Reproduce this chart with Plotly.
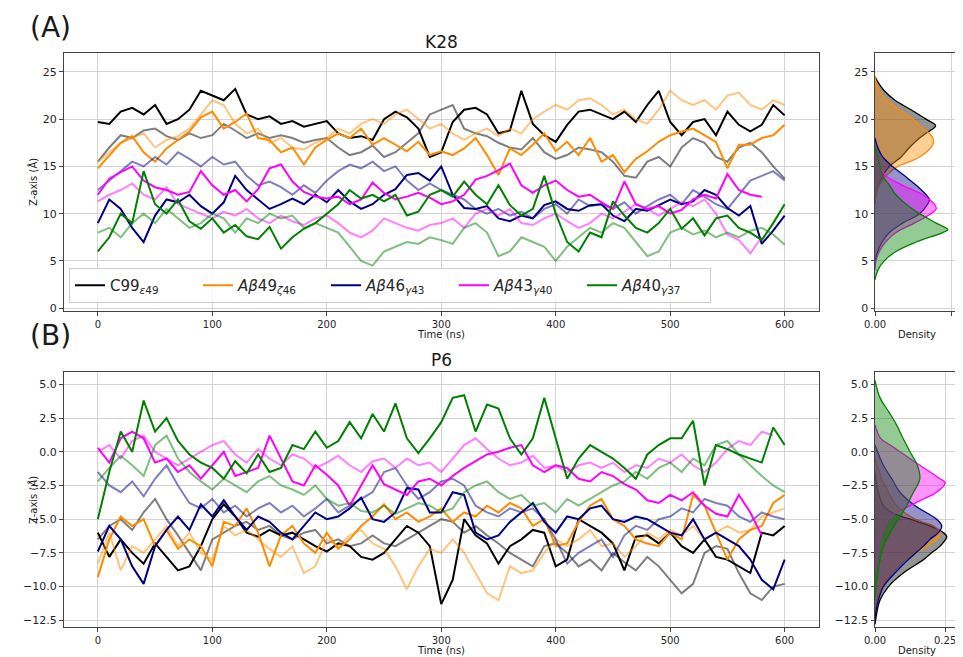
import plotly.graph_objects as go

# ---------------- time axis (ns) ----------------
time_ns = list(range(0, 601, 10))

# ---------------- Panel A : K28  (Z position, Angstrom) ----------------
k28_c99_r1 = [19.7, 19.5, 20.8, 21.2, 20.5, 21.5, 19.5, 20.0, 21.0, 23.0,
              22.5, 22.0, 23.2, 20.5, 20.0, 20.3, 19.5, 19.8, 19.2, 19.5,
              19.8, 18.5, 18.0, 18.2, 17.8, 20.0, 20.8, 20.2, 19.0, 16.0,
              16.5, 19.7, 21.0, 21.2, 20.5, 18.5, 18.8, 23.0, 19.5, 18.3,
              17.6, 19.4, 20.8, 21.0, 20.5, 20.0, 20.8, 19.7, 21.5, 23.0,
              19.7, 18.3, 19.7, 20.0, 18.3, 20.8, 19.4, 18.7, 19.4, 21.5,
              20.4]
k28_c99_r2 = [15.5, 17.0, 18.3, 18.0, 18.8, 19.0, 18.2, 17.8, 18.5, 18.0,
              18.3, 19.5, 18.8, 18.0, 18.5, 18.0, 18.3, 18.0, 17.5, 17.8,
              18.0, 17.0, 16.2, 16.5, 17.2, 16.0, 16.5, 17.5, 18.5, 20.5,
              21.0, 21.5, 19.0, 18.5, 18.2, 17.5, 17.0, 16.8, 18.0, 16.5,
              15.8, 16.2, 17.0, 16.8, 16.5, 15.5, 14.0, 13.8, 15.5, 16.0,
              15.0, 17.0, 18.0, 17.5, 16.0, 15.5, 17.0, 17.5, 16.5, 15.0,
              13.7]
k28_ab49_r1 = [14.8, 16.2, 17.5, 18.2, 16.5, 15.5, 16.9, 17.8, 18.7, 20.2,
               20.8, 19.0, 19.7, 20.6, 18.0, 17.8, 16.5, 17.0, 15.2, 17.0,
               17.8, 18.5, 18.0, 19.0, 17.3, 18.0, 17.3, 16.6, 17.6, 16.2,
               16.6, 16.2, 16.9, 18.0, 16.2, 14.1, 16.9, 16.2, 17.3, 18.5,
               16.6, 17.6, 16.2, 18.0, 15.5, 16.2, 14.4, 15.8, 16.6, 17.6,
               18.3, 18.7, 19.0, 18.3, 17.6, 14.8, 17.3, 17.3, 18.0, 18.3,
               19.4]
k28_ab49_r2 = [15.5, 16.5, 17.5, 18.0, 18.5, 17.0, 17.8, 18.2, 19.0, 20.5,
               22.0, 21.5, 19.5, 18.5, 19.0, 17.5, 18.0, 17.0, 16.8, 17.5,
               18.0, 19.0, 18.5, 19.5, 20.0, 19.5, 20.5, 21.0, 20.0, 19.0,
               19.5, 18.5, 17.8, 18.5, 19.0, 18.2, 19.0, 18.5, 20.0, 20.8,
               21.5, 21.0, 22.0, 22.2, 21.5, 20.5, 21.0, 20.0, 19.5, 21.0,
               23.0, 22.0, 21.5, 22.0, 21.0, 22.5, 22.8, 21.5, 21.0, 22.0,
               21.5]
k28_ab46_r1 = [9.0, 11.5, 10.5, 8.5, 7.0, 9.8, 11.5, 11.2, 12.0, 10.8,
               10.0, 11.2, 14.0, 12.5, 11.5, 10.5, 11.0, 11.6, 11.0, 12.0,
               11.2, 12.5, 11.3, 10.5, 11.0, 12.0, 12.6, 14.1, 14.3, 13.5,
               15.0, 12.0, 10.6, 10.5, 10.8, 9.5, 9.2, 9.8, 9.5, 10.9,
               11.3, 10.5, 10.3, 10.9, 11.0, 9.8, 9.2, 10.5, 10.3, 10.9,
               11.5, 11.0, 11.3, 12.5, 12.0, 10.6, 9.8, 10.8, 6.8, 8.2,
               9.8]
k28_ab46_r2 = [12.5, 13.5, 14.5, 15.5, 15.0, 16.0, 15.2, 16.5, 15.8, 15.0,
               16.0, 15.2, 15.5, 14.0, 13.0, 13.4, 12.8, 12.0, 13.0, 12.2,
               13.5, 14.5, 15.2, 14.8, 15.5, 14.5, 15.0, 13.5, 12.5, 13.2,
               12.5, 12.0, 11.5, 10.5, 10.0, 10.5, 9.8, 10.2, 9.5, 10.5,
               11.0, 10.0, 11.5, 10.8, 11.0, 10.5, 11.2, 10.0, 10.8, 11.5,
               12.0, 11.0, 12.5, 11.8, 11.0, 10.5, 12.0, 13.5, 14.0, 14.5,
               13.5]
k28_ab43_r1 = [12.0, 13.7, 14.4, 15.0, 13.5, 12.8, 12.5, 12.0, 12.3, 14.5,
               13.0, 12.0, 12.5, 11.3, 12.6, 14.8, 15.2, 13.4, 12.3, 11.8,
               11.6, 11.8, 11.0, 11.5, 13.3, 12.2, 11.5, 11.8, 12.2, 11.7,
               11.0, 11.3, 12.0, 13.6, 14.0, 14.6, 15.3, 13.0, 12.2, 13.0,
               13.5, 12.5, 11.8, 12.0, 11.2, 10.5, 13.4, 11.0, 10.5, 10.8,
               10.0, 10.4, 11.5, 12.0, 11.6, 14.2, 12.5, 12.0, 11.8]
k28_ab43_r2 = [11.3, 12.0, 12.5, 13.2, 12.0, 11.5, 12.8, 11.0, 10.5, 10.0,
               9.5, 10.2, 9.8, 10.5, 9.5, 9.0, 9.8, 9.2, 8.8, 9.5,
               9.8, 9.0, 8.0, 7.5, 8.2, 9.5, 9.0, 8.5, 8.2, 8.8,
               9.0, 9.5, 8.5, 10.0, 10.5, 9.8, 10.5, 9.0, 8.8, 9.5,
               10.0, 9.2, 8.5, 9.0, 10.0, 9.5, 10.2, 11.0, 10.5, 9.8,
               10.5, 11.2, 10.8, 11.5, 10.0, 7.8, 7.2, 5.8, 7.5]
k28_ab40_r1 = [6.0, 7.5, 10.0, 9.0, 14.5, 11.0, 10.0, 11.5, 9.2, 8.4,
               9.5, 8.0, 8.8, 7.6, 7.3, 8.6, 6.3, 7.5, 8.4, 9.0,
               10.0, 11.0, 12.5, 11.6, 12.0, 11.3, 12.0, 9.8, 10.2, 12.0,
               12.5, 11.8, 13.4, 12.0, 11.0, 13.0, 10.9, 9.8, 10.5, 14.0,
               10.0, 7.0, 6.0, 8.0, 7.5, 11.3, 9.8, 8.5, 8.0, 9.0,
               10.5, 8.4, 9.5, 7.7, 9.5, 9.8, 8.5, 8.0, 7.2, 9.0,
               11.0]
k28_ab40_r2 = [8.0, 8.5, 7.5, 9.0, 10.0, 9.0, 10.5, 9.5, 8.5, 9.0,
               10.0, 9.5, 8.0, 9.5, 9.0, 10.0, 9.5, 9.8, 8.5, 9.0,
               8.5, 8.0, 6.5, 5.0, 4.5, 6.0, 6.5, 7.0, 6.8, 7.5,
               7.2, 6.8, 8.5, 9.0, 8.0, 5.5, 6.0, 7.5, 7.0, 6.5,
               5.0, 6.5, 7.5, 8.5, 8.0, 9.0, 8.5, 7.0, 5.5, 6.0,
               8.0, 8.5, 7.8, 8.2, 7.5, 8.0, 7.5, 8.2, 8.5, 7.8,
               6.7]

# ---------------- Panel B : P6 ----------------
p6_c99_r1 = [-6.0, -7.8, -6.5, -7.5, -8.3, -6.8, -7.8, -8.8, -8.5, -7.0,
             -5.0, -3.9, -4.8, -6.0, -6.3, -5.8, -6.2, -6.0, -6.5, -7.0,
             -7.4, -6.8, -7.0, -7.8, -8.0, -7.5, -6.5, -5.5, -6.0, -7.0,
             -11.3, -9.5, -5.0, -6.2, -6.8, -8.3, -7.0, -6.5, -5.8, -6.0,
             -8.5, -8.0, -5.0, -5.5, -6.0, -6.8, -8.8, -6.3, -6.2, -6.8,
             -6.0, -7.0, -7.5, -6.5, -7.8, -8.0, -8.5, -9.0, -6.0, -6.2,
             -5.5]
p6_c99_r2 = [-6.5, -5.5, -5.0, -5.8, -4.5, -3.5, -5.0, -6.2, -7.5, -8.8,
             -6.5, -6.0, -5.5, -5.2, -5.8, -5.5, -6.2, -6.5, -6.0, -5.8,
             -6.8, -6.5, -7.0, -6.8, -6.2, -6.8, -7.0, -6.5, -6.0, -5.5,
             -5.0, -5.2, -6.0, -5.5, -6.2, -6.8, -7.5, -8.0, -8.5, -7.0,
             -6.8, -7.5, -8.5, -8.0, -8.8, -7.5, -8.2, -8.8, -7.8, -8.5,
             -9.5, -10.5, -9.8, -7.5, -7.0, -7.2, -9.0, -10.5, -11.0, -10.0,
             -9.8]
p6_ab49_r1 = [-9.3, -6.5, -4.8, -5.5, -5.0, -7.0, -5.8, -7.2, -6.5, -7.0,
              -8.5, -5.2, -5.5, -4.2, -6.0, -8.5, -6.2, -5.5, -6.8, -7.5,
              -6.0, -7.2, -6.5, -5.5, -4.8, -3.9, -5.0, -4.5, -5.2, -4.8,
              -4.2, -5.2, -4.5, -4.8, -4.0, -4.5, -3.8, -4.2, -5.5, -5.0,
              -7.0, -6.8, -5.2, -4.0, -3.5, -5.0, -5.5, -6.5, -6.8, -7.0,
              -6.0, -6.5, -3.2, -4.0, -6.0, -8.0, -6.5, -5.8, -5.5, -3.8,
              -3.2]
p6_ab49_r2 = [-8.3, -6.0, -8.8, -7.0, -7.5, -6.5, -5.5, -7.0, -6.0, -7.5,
              -8.0, -5.5, -6.2, -5.8, -6.5, -7.2, -7.8, -7.0, -9.0, -8.5,
              -6.5, -7.0, -6.2, -5.8, -6.8, -7.2, -8.5, -10.2, -8.5, -7.2,
              -7.5, -6.5, -7.5, -9.0, -10.5, -11.0, -8.5, -9.0, -8.8, -7.5,
              -6.5, -7.0, -6.5, -5.8, -7.0, -6.8, -7.8, -7.0, -6.0, -6.5,
              -5.8, -6.2, -5.5, -6.5, -6.0, -5.5, -6.0, -5.8, -4.8, -4.5,
              -4.2]
p6_ab46_r1 = [-7.4, -5.5, -6.5, -8.5, -9.8, -7.0, -5.8, -4.8, -5.8, -3.9,
              -4.8, -3.6, -4.8, -5.8, -4.8, -5.2, -6.0, -6.5, -5.5, -4.5,
              -5.0, -4.8, -4.2, -3.4, -5.0, -5.2, -4.5, -2.7, -2.8, -4.5,
              -4.5, -3.0, -3.2, -6.0, -6.5, -6.2, -5.2, -4.5, -3.8, -5.2,
              -6.0, -4.8, -5.0, -4.2, -4.0, -5.0, -5.2, -4.8, -5.0, -5.5,
              -6.0, -6.2, -5.0, -6.5, -6.0, -6.5, -7.0, -8.0, -9.5, -10.2,
              -8.0]
p6_ab46_r2 = [-1.5, -2.5, -3.0, -2.2, -3.3, -2.0, -1.0, -2.5, -3.8, -4.2,
              -3.5, -4.5, -4.0, -4.8, -4.2, -3.8, -4.5, -4.0, -4.8, -4.2,
              -3.5, -4.5, -4.0, -3.5, -3.0, -1.5, -1.2, -2.5, -3.5, -3.0,
              -2.2, -2.0, -2.5, -4.0, -4.5, -4.8, -4.2, -4.5, -4.2, -5.0,
              -6.5, -8.3, -7.5, -7.0, -6.5, -7.8, -6.2, -5.5, -5.8, -5.0,
              -4.8, -4.2, -4.5, -3.5, -3.8, -4.0, -4.8, -5.2, -4.5, -4.8,
              -5.0]
p6_ab43_r1 = [0.3, -0.8, 1.0, 1.5, 1.0, -0.8, -0.5, -1.5, -1.0, -2.0,
              -1.0, 0.0, -1.8, -1.5, -1.2, 1.2, -0.5, -2.2, -2.5, -1.0,
              -1.7, -2.5, -4.0, -2.5, -1.0, -2.4, -2.8, -3.2, -2.2, -2.0,
              -2.5, -1.8, -1.2, -0.7, -0.2, 0.0, 0.3, 0.5, -1.0, -1.5,
              -1.0, -1.2, -2.0, -2.2, -1.5, -1.8, -2.4, -2.8, -3.6, -3.8,
              -3.2, -3.6, -3.0, -4.0, -4.6, -4.8, -3.2, -4.5, -6.2]
p6_ab43_r2 = [0.0, 0.5, -0.5, 0.8, 1.2, 0.0, -0.5, -1.0, -0.5, 0.0,
              0.5, 0.8, -0.2, -0.8, 0.2, -0.5, -1.0, -0.2, -0.5, -1.2,
              -0.8, -0.3, -1.0, -1.5, -0.7, -0.5, -1.2, -0.5, -1.0, -0.8,
              -1.5, -0.5, 0.5, 1.0, 0.2, -0.5, -1.0, -0.8, -0.3, -1.2,
              -1.0, -1.5, -1.0, -0.8, -1.2, -0.8, -1.5, -1.0, -1.2, -0.5,
              -0.8, -0.2, -1.0, -1.5, -0.8, 0.2, 0.8, 0.5, 1.5, 1.2]
p6_ab40_r1 = [-5.0, -1.5, 1.5, 0.0, 3.8, 1.5, 2.5, 0.8, -0.2, -0.8,
              -1.2, -2.0, -0.7, -1.6, -0.2, -1.5, -1.2, 0.5, 0.2, 1.5,
              0.3, 0.8, 2.2, 1.0, 2.8, 1.5, 3.6, 1.0, -0.1, 1.0,
              2.2, 4.0, 4.2, 1.5, 3.5, 3.2, 1.0, -0.2, 1.0, 4.0,
              1.0, -2.0, -0.5, 0.5, 0.0, -0.5, -1.2, -2.0, -0.2, 0.5,
              1.0, 1.0, 2.3, -2.5, 0.5, 0.2, -0.2, -0.5, -0.8, 1.8,
              0.5]
p6_ab40_r2 = [-2.2, -1.2, -0.3, -1.0, -1.8, 0.5, 1.2, -0.5, -1.5, -2.2,
              -2.8, -2.0, -2.5, -3.0, -2.2, -1.8, -2.5, -2.8, -3.2, -2.5,
              -3.5, -4.0, -3.8, -4.4, -4.5, -4.0, -4.6, -4.2, -3.8, -4.0,
              -4.5, -4.2, -3.0, -2.5, -2.2, -3.0, -3.5, -3.2, -4.0, -3.8,
              -4.5, -3.5, -4.0, -3.5, -3.0, -2.5, -2.2, -1.5, -2.0, -1.2,
              -0.8, -1.5, -0.5, -1.0, 0.5, 0.8, -0.2, -1.0, -1.8, -2.5,
              -3.0]

# ---------------- density curves ----------------
k28_kde_z = {
    "c99": [24.5, 24, 23, 22, 21, 20, 19.3, 18.5, 18, 17, 16, 15, 14, 13, 12, 11],
    "ab49": [24.5, 23, 22, 21, 20, 19, 18.5, 18, 17.5, 17, 16, 15.5, 15, 14, 13, 12, 11],
    "ab46": [18, 17, 16, 15, 14, 13, 12, 11.5, 11, 10, 9, 8, 7, 6, 5],
    "ab43": [16.5, 15, 14, 13, 12, 11, 10.5, 10, 9, 8, 7, 6, 5, 4],
    "ab40": [17, 16, 14, 13, 12, 11, 10, 9, 8.3, 8, 7, 6, 5, 4, 3],
}
k28_kde_d = {
    "c99": [0, 0.008, 0.03, 0.065, 0.117, 0.166, 0.197, 0.166, 0.145, 0.112, 0.085, 0.047, 0.025, 0.012, 0.003, 0],
    "ab49": [0, 0.014, 0.04, 0.08, 0.123, 0.155, 0.177, 0.188, 0.19, 0.182, 0.145, 0.112, 0.074, 0.036, 0.014, 0.003, 0],
    "ab46": [0, 0.009, 0.025, 0.057, 0.096, 0.134, 0.166, 0.177, 0.171, 0.145, 0.09, 0.047, 0.023, 0.009, 0],
    "ab43": [0, 0.014, 0.036, 0.09, 0.155, 0.193, 0.199, 0.182, 0.128, 0.068, 0.034, 0.014, 0.003, 0],
    "ab40": [0, 0.009, 0.025, 0.047, 0.068, 0.101, 0.145, 0.199, 0.237, 0.22, 0.134, 0.068, 0.03, 0.009, 0],
}
p6_kde_z = {
    "c99": [-1.5, -3, -4, -4.5, -5, -5.5, -6, -6.3, -7, -7.5, -8, -9, -10, -11, -12, -12.8],
    "ab49": [-0.5, -2, -3, -4, -5, -5.5, -6, -6.5, -7, -7.5, -8, -9, -10, -11, -12],
    "ab46": [0.5, -1, -2, -3, -4, -5, -5.5, -6, -6.5, -7, -8, -9, -10, -11, -12, -12.5],
    "ab43": [2, 1, 0.5, 0, -1, -2, -2.3, -3, -3.5, -4, -4.5, -5, -6, -7, -8, -9],
    "ab40": [5.3, 4, 3, 2, 1, 0, -1, -2, -2.5, -3, -4, -5, -6, -7, -8, -9, -10, -11],
}
p6_kde_d = {
    "c99": [0, 0.012, 0.03, 0.06, 0.125, 0.196, 0.244, 0.256, 0.232, 0.202, 0.173, 0.101, 0.048, 0.018, 0.006, 0],
    "ab49": [0, 0.024, 0.048, 0.077, 0.143, 0.208, 0.232, 0.22, 0.185, 0.143, 0.101, 0.054, 0.024, 0.01, 0],
    "ab46": [0, 0.03, 0.06, 0.089, 0.143, 0.22, 0.238, 0.226, 0.196, 0.173, 0.119, 0.071, 0.03, 0.012, 0.002, 0],
    "ab43": [0, 0.02, 0.054, 0.089, 0.16, 0.232, 0.25, 0.22, 0.173, 0.125, 0.077, 0.048, 0.024, 0.012, 0.006, 0],
    "ab40": [0, 0.018, 0.048, 0.077, 0.10, 0.125, 0.151, 0.16, 0.151, 0.137, 0.113, 0.083, 0.054, 0.03, 0.018, 0.01, 0.003, 0],
}

series_keys = ["c99", "ab49", "ab46", "ab43", "ab40"]
legend_names = ["C99<sub><i>ε</i>49</sub>",
                "<i>Aβ</i>49<sub><i>ζ</i>46</sub>",
                "<i>Aβ</i>46<sub><i>γ</i>43</sub>",
                "<i>Aβ</i>43<sub><i>γ</i>40</sub>",
                "<i>Aβ</i>40<sub><i>γ</i>37</sub>"]
rgb = {"c99": (0, 0, 0), "ab49": (255, 140, 0), "ab46": (0, 0, 128),
       "ab43": (255, 0, 255), "ab40": (0, 128, 0)}

k28 = {"c99": (k28_c99_r1, k28_c99_r2), "ab49": (k28_ab49_r1, k28_ab49_r2),
       "ab46": (k28_ab46_r1, k28_ab46_r2), "ab43": (k28_ab43_r1, k28_ab43_r2),
       "ab40": (k28_ab40_r1, k28_ab40_r2)}
p6 = {"c99": (p6_c99_r1, p6_c99_r2), "ab49": (p6_ab49_r1, p6_ab49_r2),
      "ab46": (p6_ab46_r1, p6_ab46_r2), "ab43": (p6_ab43_r1, p6_ab43_r2),
      "ab40": (p6_ab40_r1, p6_ab40_r2)}


def rgba(c, a):
    return "rgba(%d,%d,%d,%.2f)" % (c[0], c[1], c[2], a)


fig = go.Figure()

# time series
for panel, (data, xa, ya) in enumerate([(k28, "x", "y"), (p6, "x3", "y3")]):
    for k, name in zip(series_keys, legend_names):
        r1, r2 = data[k]
        fig.add_trace(go.Scatter(x=time_ns[:len(r1)], y=r1, mode="lines",
                                 line=dict(color=rgba(rgb[k], 1.0), width=2),
                                 name=name, legendgroup=k,
                                 showlegend=(panel == 0), xaxis=xa, yaxis=ya))
        fig.add_trace(go.Scatter(x=time_ns[:len(r2)], y=r2, mode="lines",
                                 line=dict(color=rgba(rgb[k], 0.5), width=2),
                                 showlegend=False, legendgroup=k,
                                 xaxis=xa, yaxis=ya))

# density side panels
for zs, ds, xa, ya in [(k28_kde_z, k28_kde_d, "x2", "y2"), (p6_kde_z, p6_kde_d, "x4", "y4")]:
    for k in series_keys:
        fig.add_trace(go.Scatter(x=ds[k], y=zs[k], mode="lines",
                                 line=dict(color=rgba(rgb[k], 1.0), width=1.3, shape="spline"),
                                 fill="tozerox", fillcolor=rgba(rgb[k], 0.42),
                                 showlegend=False, xaxis=xa, yaxis=ya))

# the page body has an 8 px margin: the figure is drawn 8 px in and 8 px smaller
OFF = 8
W, H = 963 - OFF, 657 - OFF


def px(x):
    return (x - OFF) / W


def py(y):
    return 1 - (y - OFF) / H


def dx(a, b):
    return [px(a), px(b)]


def dy(top, bottom):
    return [py(bottom), py(top)]


axis_common = dict(showline=True, linecolor="#444", linewidth=1, mirror=True,
                   showgrid=True, gridcolor="#d3d3d3", gridwidth=1, zeroline=False,
                   ticks="outside", ticklen=3.5, tickcolor="#444", automargin=False)
yfont = dict(tickfont=dict(family="DejaVu Sans", size=11, color="#262626"))
xfont = dict(tickfont=dict(family="DejaVu Sans", size=10, color="#262626"))

fig.update_layout(
    width=W, height=H, margin=dict(l=0, r=0, t=0, b=0, autoexpand=False),
    paper_bgcolor="white", plot_bgcolor="white",
    font=dict(family="DejaVu Sans", color="#262626"),
    xaxis=dict(domain=dx(63.5, 819), range=[-30, 630], tickvals=[0, 100, 200, 300, 400, 500, 600],
               anchor="y", **axis_common, **xfont),
    yaxis=dict(domain=dy(53, 311), range=[-0.3, 27.0], tickvals=[0, 5, 10, 15, 20, 25],
               anchor="x", **axis_common, **yfont),
    xaxis2=dict(domain=dx(875, 959), range=[0, 0.273], tickvals=[0, 0.25], tickformat=".2f",
                anchor="y2", **axis_common, **xfont),
    yaxis2=dict(domain=dy(53, 311), range=[-0.3, 27.0], tickvals=[0, 5, 10, 15, 20, 25],
                anchor="x2", **axis_common, **yfont),
    xaxis3=dict(domain=dx(63.5, 819), range=[-30, 630], tickvals=[0, 100, 200, 300, 400, 500, 600],
                anchor="y3", **axis_common, **xfont),
    yaxis3=dict(domain=dy(372, 627), range=[-13.0, 5.92],
                tickvals=[-12.5, -10, -7.5, -5, -2.5, 0, 2.5, 5], tickformat=".1f",
                anchor="x3", **axis_common, **yfont),
    xaxis4=dict(domain=dx(875, 958), range=[0, 0.296], tickvals=[0, 0.25], tickformat=".2f",
                anchor="y4", **axis_common, **xfont),
    yaxis4=dict(domain=dy(372, 627), range=[-13.0, 5.92],
                tickvals=[-12.5, -10, -7.5, -5, -2.5, 0, 2.5, 5], tickformat=".1f",
                anchor="x4", **axis_common, **yfont),
    legend=dict(orientation="h", x=px(69), y=py(268), xanchor="left", yanchor="top",
                bgcolor="rgba(255,255,255,0.85)", bordercolor="#cccccc", borderwidth=1,
                font=dict(family="DejaVu Sans", size=15, color="#262626"),
                entrywidth=83, entrywidthmode="pixels", itemwidth=30,
                traceorder="normal"),
    showlegend=True,
)


def ann(text, x, y, size, angle=0):
    fig.add_annotation(text=text, x=px(x), y=py(y), xref="paper", yref="paper",
                       showarrow=False, xanchor="center", yanchor="middle",
                       textangle=angle, font=dict(family="DejaVu Sans", size=size, color="#1a1a1a"))


ann("(A)", 50, 28, 28)
ann("(B)", 50, 335, 28)
ann("K28", 441, 42, 17)
ann("P6", 441, 360, 17)
ann("Time (ns)", 441, 334, 10)
ann("Time (ns)", 441, 650, 10)
ann("Density", 917, 334, 10)
ann("Density", 917, 650, 10)
ann("Z-axis (Å)", 33, 182, 10, -90)
ann("Z-axis (<i>Å</i>)", 33, 500, 10, -90)

fig.write_html("out.html")
